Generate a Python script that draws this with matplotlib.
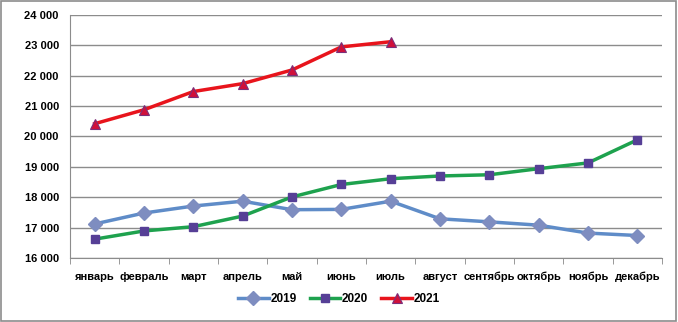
import matplotlib
matplotlib.use("Agg")
import matplotlib.pyplot as plt
from matplotlib.patches import Rectangle
import numpy as np

months = ["январь", "февраль", "март", "апрель", "май", "июнь", "июль",
          "август", "сентябрь", "октябрь", "ноябрь", "декабрь"]
s2019 = [17120, 17480, 17710, 17870, 17590, 17600, 17870, 17290, 17190, 17080, 16820, 16740]
s2020 = [16620, 16890, 17030, 17380, 18010, 18420, 18610, 18700, 18740, 18940, 19130, 19890]
s2021 = [20420, 20880, 21480, 21740, 22190, 22950, 23120]
yticks = [16000, 17000, 18000, 19000, 20000, 21000, 22000, 23000, 24000]

plt.rcParams['font.family'] = ['Liberation Sans', 'DejaVu Sans']
plt.rcParams['font.weight'] = 'bold'

fig = plt.figure(figsize=(6.78, 3.22), dpi=100)
ax = fig.add_axes([0.1032, 0.1988, 0.8732, 0.7546])

x = np.arange(len(months))
ax.plot(x, s2019, color="#5F8CC8", lw=2.5, marker="D", ms=7,
        mfc="#7E8DC0", mec="#7E8DC0", label="2019", zorder=3)
ax.plot(x, s2020, color="#1EA24E", lw=2.5, marker="s", ms=5.5,
        mfc="#563F96", mec="#563F96", label="2020", zorder=3)
ax.plot(x[:len(s2021)], s2021, color="#E8141C", lw=2.5, marker="^", ms=7.5,
        mfc="#D0103A", mec="#7A2F7A", mew=0.8, label="2021", zorder=4)

ax.set_xlim(-0.5, len(months) - 0.5)
ax.set_ylim(yticks[0], yticks[-1])
ax.set_yticks(yticks)
ax.set_yticklabels([f"{v:,}".replace(",", " ") for v in yticks], fontsize=8, fontweight='bold')
ax.set_xticks(x)
ax.set_xticklabels(months, fontsize=8, fontweight='bold')
ax.set_xticks(np.arange(-0.5, len(months)), minor=True)
ax.tick_params(axis='x', which='major', length=0, pad=10)
ax.tick_params(axis='x', which='minor', length=4, color="#888888")
ax.tick_params(axis='y', length=0, pad=8)
ax.grid(axis='y', color="#8C8C8C", lw=1)
ax.set_axisbelow(True)
for s in ['top', 'right']:
    ax.spines[s].set_visible(False)
ax.spines['left'].set_color("#8C8C8C")
ax.spines['bottom'].set_color("#8C8C8C")

leg = fig.legend(loc='center', bbox_to_anchor=(0.5, 0.072), ncol=3, frameon=False,
                 fontsize=8.5, handlelength=2.6, columnspacing=1.1, handletextpad=0.15)

fig.patches.append(Rectangle((0.002, 0.003), 0.995, 0.994, transform=fig.transFigure,
                             fill=False, edgecolor="#8C8C8C", lw=1.2))

fig.savefig("out.png", dpi=100)
